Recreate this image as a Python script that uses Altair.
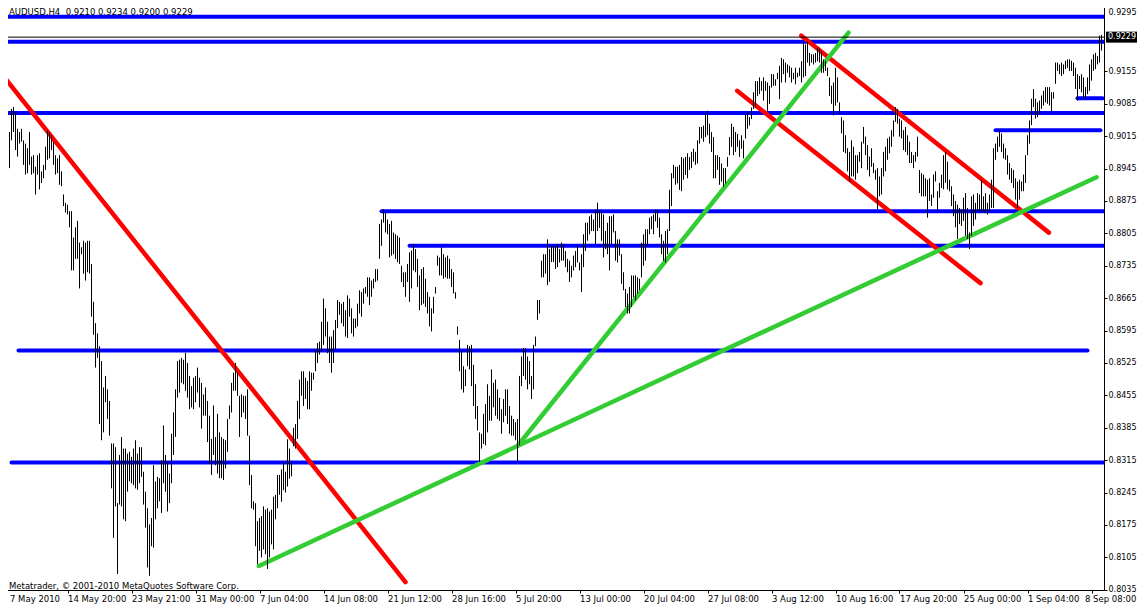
import json
import altair as alt
import pandas as pd

# ---------------- data ----------------
bar_high = [
0.8917,0.8907,0.9014,0.9024,0.9074,0.9078,0.9067,0.9031,0.9024,0.9031,
0.9006,0.8999,0.8989,0.9024,0.8971,0.8974,0.8949,0.8974,0.8978,0.8939,
0.8953,0.8992,0.9028,0.9024,0.9017,0.9003,0.8974,0.8967,0.8974,0.8939,
0.8889,0.8871,0.8867,0.8853,0.8853,0.8796,0.8818,0.8832,0.8785,0.8775,
0.8789,0.8785,0.8789,0.8789,0.8739,0.8657,0.8611,0.8589,0.8561,0.8529,
0.8472,0.8497,0.8468,0.8443,0.8351,0.8351,0.8343,0.8222,0.8326,0.8365,
0.8340,0.8340,0.8329,0.8333,0.8322,0.8340,0.8358,0.8329,0.8343,0.8343,
0.8290,0.8247,0.8211,0.8176,0.8190,0.8304,0.8269,0.8279,0.8276,0.8315,
0.8390,0.8326,0.8311,0.8286,0.8372,0.8418,0.8468,0.8529,0.8532,0.8536,
0.8532,0.8547,0.8525,0.8497,0.8475,0.8493,0.8497,0.8515,0.8493,0.8482,
0.8457,0.8472,0.8443,0.8411,0.8361,0.8433,0.8365,0.8415,0.8375,0.8365,
0.8361,0.8358,0.8404,0.8433,0.8482,0.8504,0.8525,0.8504,0.8454,0.8457,
0.8454,0.8454,0.8468,0.8368,0.8283,0.8226,0.8222,0.8183,0.8190,0.8194,
0.8215,0.8208,0.8211,0.8204,0.8208,0.8236,0.8240,0.8283,0.8283,0.8295,
0.8310,0.8290,0.8360,0.8340,0.8312,0.8385,0.8393,0.8443,0.8489,0.8507,
0.8507,0.8493,0.8486,0.8507,0.8504,0.8504,0.8554,0.8568,0.8571,0.8614,
0.8664,0.8643,0.8614,0.8582,0.8582,0.8596,0.8618,0.8661,0.8657,0.8653,
0.8657,0.8639,0.8671,0.8664,0.8643,0.8621,0.8621,0.8653,0.8682,0.8678,
0.8686,0.8689,0.8710,0.8710,0.8703,0.8707,0.8728,0.8728,0.8825,0.8835,
0.8857,0.8850,0.8835,0.8825,0.8832,0.8807,0.8803,0.8800,0.8796,0.8735,
0.8721,0.8721,0.8739,0.8764,0.8768,0.8782,0.8771,0.8750,0.8714,0.8728,
0.8732,0.8707,0.8678,0.8668,0.8643,0.8668,0.8689,0.8757,0.8753,0.8775,
0.8760,0.8753,0.8757,0.8750,0.8728,0.8721,0.8678,0.8604,0.8575,0.8550,
0.8518,0.8511,0.8564,0.8561,0.8564,0.8521,0.8479,0.8432,0.8375,0.8372,
0.8415,0.8436,0.8479,0.8454,0.8511,0.8482,0.8489,0.8468,0.8450,0.8425,
0.8447,0.8468,0.8468,0.8432,0.8411,0.8404,0.8397,0.8404,0.8497,0.8539,
0.8557,0.8557,0.8539,0.8529,0.8497,0.8564,0.8582,0.8661,0.8661,0.8746,
0.8760,0.8760,0.8792,0.8771,0.8778,0.8778,0.8778,0.8782,0.8771,0.8785,
0.8782,0.8767,0.8750,0.8746,0.8735,0.8757,0.8767,0.8778,0.8742,0.8760,
0.8803,0.8828,0.8828,0.8842,0.8846,0.8835,0.8856,0.8871,0.8853,0.8853,
0.8846,0.8810,0.8828,0.8842,0.8842,0.8846,0.8810,0.8792,0.8792,0.8760,
0.8721,0.8685,0.8675,0.8689,0.8714,0.8714,0.8714,0.8710,0.8707,0.8785,
0.8803,0.8814,0.8814,0.8839,0.8842,0.8846,0.8856,0.8856,0.8839,0.8803,
0.8789,0.8810,0.8814,0.8899,0.8935,0.8953,0.8949,0.8949,0.8953,0.8970,
0.8967,0.8970,0.8978,0.8970,0.8981,0.8988,0.8981,0.9006,0.9035,0.9035,
0.9038,0.9063,0.9070,0.9042,0.9024,0.9013,0.8974,0.8974,0.8970,0.8956,
0.8946,0.8946,0.8970,0.9013,0.9042,0.9035,0.9024,0.9020,0.9006,0.9017,
0.9006,0.9063,0.9067,0.9056,0.9077,0.9110,0.9134,0.9134,0.9142,0.9134,
0.9142,0.9134,0.9131,0.9124,0.9149,0.9149,0.9138,0.9152,0.9167,0.9184,
0.9181,0.9174,0.9170,0.9167,0.9163,0.9152,0.9163,0.9152,0.9163,0.9177,
0.9217,0.9213,0.9220,0.9195,0.9192,0.9192,0.9195,0.9206,0.9206,0.9199,
0.9181,0.9177,0.9163,0.9142,0.9124,0.9131,0.9163,0.9142,0.9088,0.9056,
0.9049,0.9017,0.8989,0.8981,0.9006,0.8992,0.8974,0.8974,0.8981,0.9003,
0.9035,0.9014,0.8996,0.8971,0.8989,0.8957,0.8942,0.8946,0.8928,0.8946,
0.8981,0.8992,0.9010,0.9014,0.9028,0.9049,0.9078,0.9074,0.9053,0.9049,
0.9028,0.9035,0.9017,0.9003,0.8981,0.8974,0.8981,0.9014,0.8942,0.8935,
0.8932,0.8924,0.8921,0.8924,0.8889,0.8932,0.8939,0.8896,0.8914,0.8932,
0.8974,0.8981,0.8960,0.8921,0.8907,0.8889,0.8875,0.8867,0.8860,0.8857,
0.8882,0.8892,0.8860,0.8807,0.8885,0.8889,0.8871,0.8892,0.8889,0.8921,
0.8885,0.8892,0.8871,0.8889,0.8921,0.8989,0.8999,0.9014,0.9028,0.9021,
0.8999,0.8989,0.8974,0.8957,0.8946,0.8942,0.8924,0.8917,0.8921,0.8917,
0.8932,0.8974,0.9017,0.9049,0.9096,0.9117,0.9096,0.9088,0.9092,0.9103,
0.9113,0.9121,0.9121,0.9121,0.9110,0.9110,0.9174,0.9174,0.9170,0.9174,
0.9170,0.9178,0.9181,0.9181,0.9178,0.9174,0.9163,0.9149,0.9145,0.9149,
0.9142,0.9121,0.9142,0.9170,0.9181,0.9192,0.9195,0.9188,0.9232,0.9234,
]

bar_low = [
0.8857,0.8860,0.8921,0.8946,0.9006,0.9024,0.8985,0.8971,0.8999,0.9003,
0.8953,0.8932,0.8935,0.8953,0.8932,0.8935,0.8889,0.8932,0.8900,0.8914,
0.8924,0.8942,0.8964,0.8967,0.8985,0.8953,0.8932,0.8935,0.8910,0.8907,
0.8864,0.8850,0.8846,0.8818,0.8725,0.8725,0.8750,0.8750,0.8686,0.8760,
0.8718,0.8703,0.8721,0.8718,0.8625,0.8586,0.8515,0.8536,0.8393,0.8358,
0.8375,0.8440,0.8404,0.8368,0.8254,0.8147,0.8215,0.8069,0.8219,0.8215,
0.8187,0.8183,0.8247,0.8269,0.8265,0.8261,0.8254,0.8251,0.8265,0.8279,
0.8219,0.8169,0.8083,0.8065,0.8129,0.8126,0.8187,0.8211,0.8226,0.8201,
0.8265,0.8247,0.8204,0.8222,0.8265,0.8326,0.8365,0.8450,0.8461,0.8482,
0.8479,0.8465,0.8450,0.8425,0.8429,0.8425,0.8440,0.8461,0.8429,0.8383,
0.8411,0.8411,0.8354,0.8308,0.8283,0.8326,0.8304,0.8286,0.8276,0.8276,
0.8272,0.8297,0.8333,0.8404,0.8418,0.8465,0.8465,0.8454,0.8365,0.8408,
0.8418,0.8404,0.8368,0.8261,0.8211,0.8208,0.8129,0.8090,0.8119,0.8105,
0.8122,0.8112,0.8080,0.8105,0.8133,0.8122,0.8187,0.8211,0.8240,0.8225,
0.8250,0.8245,0.8258,0.8275,0.8280,0.8345,0.8340,0.8361,0.8404,0.8454,
0.8432,0.8447,0.8425,0.8425,0.8465,0.8489,0.8507,0.8525,0.8543,0.8550,
0.8564,0.8582,0.8546,0.8525,0.8504,0.8525,0.8554,0.8600,0.8629,0.8611,
0.8604,0.8582,0.8579,0.8625,0.8589,0.8582,0.8600,0.8604,0.8632,0.8625,
0.8653,0.8675,0.8668,0.8650,0.8668,0.8686,0.8700,0.8703,0.8750,0.8778,
0.8828,0.8807,0.8803,0.8753,0.8757,0.8760,0.8750,0.8743,0.8739,0.8700,
0.8689,0.8668,0.8700,0.8657,0.8686,0.8725,0.8721,0.8689,0.8639,0.8650,
0.8653,0.8646,0.8632,0.8604,0.8593,0.8632,0.8675,0.8735,0.8714,0.8714,
0.8707,0.8710,0.8707,0.8707,0.8689,0.8675,0.8664,0.8586,0.8507,0.8468,
0.8461,0.8475,0.8518,0.8511,0.8475,0.8432,0.8404,0.8379,0.8311,0.8340,
0.8350,0.8347,0.8375,0.8400,0.8400,0.8429,0.8411,0.8404,0.8400,0.8372,
0.8397,0.8411,0.8393,0.8372,0.8368,0.8368,0.8358,0.8311,0.8347,0.8475,
0.8497,0.8489,0.8468,0.8479,0.8447,0.8468,0.8561,0.8618,0.8632,0.8710,
0.8710,0.8718,0.8693,0.8700,0.8743,0.8743,0.8728,0.8732,0.8742,0.8746,
0.8746,0.8732,0.8721,0.8700,0.8710,0.8725,0.8732,0.8742,0.8725,0.8678,
0.8732,0.8767,0.8789,0.8803,0.8810,0.8810,0.8782,0.8810,0.8817,0.8789,
0.8753,0.8771,0.8760,0.8725,0.8782,0.8807,0.8746,0.8742,0.8757,0.8696,
0.8682,0.8646,0.8632,0.8632,0.8646,0.8667,0.8660,0.8675,0.8682,0.8710,
0.8735,0.8746,0.8778,0.8803,0.8814,0.8803,0.8831,0.8817,0.8796,0.8760,
0.8746,0.8742,0.8760,0.8810,0.8864,0.8924,0.8910,0.8913,0.8899,0.8896,
0.8921,0.8931,0.8924,0.8942,0.8946,0.8960,0.8953,0.8956,0.8999,0.9010,
0.9003,0.9013,0.9017,0.8999,0.8981,0.8924,0.8924,0.8942,0.8910,0.8917,
0.8906,0.8913,0.8949,0.8974,0.8992,0.8974,0.8981,0.8992,0.8970,0.8988,
0.8967,0.9010,0.9031,0.9038,0.9052,0.9074,0.9077,0.9102,0.9106,0.9113,
0.9092,0.9113,0.9070,0.9085,0.9120,0.9124,0.9124,0.9138,0.9095,0.9131,
0.9149,0.9131,0.9152,0.9142,0.9131,0.9138,0.9127,0.9142,0.9145,0.9131,
0.9142,0.9145,0.9174,0.9167,0.9174,0.9170,0.9174,0.9177,0.9174,0.9152,
0.9152,0.9156,0.9145,0.9102,0.9085,0.9060,0.9081,0.9088,0.9063,0.9021,
0.8981,0.8978,0.8939,0.8917,0.8928,0.8928,0.8921,0.8935,0.8960,0.8946,
0.8999,0.8974,0.8942,0.8928,0.8949,0.8935,0.8921,0.8857,0.8885,0.8889,
0.8928,0.8939,0.8964,0.8978,0.8992,0.9014,0.9046,0.9042,0.9014,0.9010,
0.8985,0.8981,0.8974,0.8957,0.8957,0.8946,0.8960,0.8971,0.8892,0.8885,
0.8885,0.8885,0.8839,0.8875,0.8864,0.8882,0.8917,0.8853,0.8882,0.8903,
0.8900,0.8914,0.8900,0.8896,0.8864,0.8842,0.8818,0.8793,0.8825,0.8821,
0.8832,0.8800,0.8793,0.8771,0.8800,0.8821,0.8835,0.8853,0.8850,0.8853,
0.8853,0.8850,0.8846,0.8853,0.8860,0.8860,0.8964,0.8981,0.8992,0.8981,
0.8967,0.8964,0.8932,0.8921,0.8914,0.8903,0.8878,0.8860,0.8878,0.8896,
0.8896,0.8914,0.8974,0.8999,0.9039,0.9078,0.9053,0.9056,0.9063,0.9074,
0.9081,0.9088,0.9085,0.9081,0.9067,0.9096,0.9128,0.9156,0.9149,0.9145,
0.9149,0.9160,0.9163,0.9156,0.9156,0.9145,0.9117,0.9092,0.9117,0.9110,
0.9099,0.9096,0.9106,0.9113,0.9135,0.9156,0.9160,0.9170,0.9174,0.9200,
]

date_labels = ["7 May 2010", "14 May 20:00", "23 May 21:00", "31 May 00:00",
               "7 Jun 04:00", "14 Jun 08:00", "21 Jun 12:00", "28 Jun 16:00",
               "5 Jul 20:00", "13 Jul 00:00", "20 Jul 04:00", "27 Jul 08:00",
               "3 Aug 12:00", "10 Aug 16:00", "17 Aug 20:00", "25 Aug 00:00",
               "1 Sep 04:00", "8 Sep 08:00"]
date_label_bars = [0, 32, 64, 96, 128, 160, 192, 224, 256, 288, 320, 352,
                   384, 416, 448, 480, 512, 544]

price_ticks = [0.8035, 0.8105, 0.8175, 0.8245, 0.8315, 0.8385, 0.8455,
               0.8525, 0.8595, 0.8665, 0.8735, 0.8805, 0.8875, 0.8945,
               0.9015, 0.9085, 0.9155, 0.9295]

# horizontal (blue) levels: price, first bar, last bar
level_price = [0.9273, 0.9219, 0.9065, 0.8853, 0.8778, 0.8552, 0.8310, 0.9028, 0.9097]
level_from = [-0.75, -0.75, -0.75, 189.0, 203.0, 7.5, 4.0, 496.0, 537.0]
level_to = [550.25, 550.25, 550.25, 550.25, 550.25, 542.0, 550.25, 548.5, 549.5]

# trend lines (red / green)
trend_from_bar = [-0.75, 398.9, 366.8, 127.7, 257.2]
trend_from_price = [0.91488, 0.92322, 0.91131, 0.80863, 0.83467]
trend_to_bar = [201.0, 522.7, 488.5, 546.5, 422.5]
trend_to_price = [0.80515, 0.88066, 0.86975, 0.89263, 0.92386]
trend_color = ["#FF0000", "#FF0000", "#FF0000", "#32CD32", "#32CD32"]

bid_price = 0.9229
bid_text = "0.9229"
title_text = "AUDUSD,H4\u00a0 0.9210 0.9234 0.9200 0.9229"
copyright_text = "Metatrader, \u00a9 2001-2010 MetaQuotes Software Corp."

# ---------------- chart ----------------
W, H = 1102, 589
FONT = "DejaVu Sans"
FS = 8.5
FS_Y = 8

xs = alt.Scale(domain=[-0.75, 550.25], nice=False, zero=False)
ys = alt.Scale(domain=[0.80344, 0.93071], nice=False, zero=False)

bars_df = pd.DataFrame({"bar": list(range(len(bar_high))), "high": bar_high, "low": bar_low})
levels_df = pd.DataFrame({"x1": level_from, "x2": level_to, "p": level_price})
trend_df = pd.DataFrame({"x1": trend_from_bar, "p1": trend_from_price,
                         "x2": trend_to_bar, "p2": trend_to_price, "c": trend_color})
bid_df = pd.DataFrame({"p": [bid_price], "t": [bid_text]})
title_df = pd.DataFrame({"t": [title_text]})
copy_df = pd.DataFrame({"t": [copyright_text]})

label_expr = (json.dumps(date_labels) + "[indexof(" + json.dumps(date_label_bars)
              + ", datum.value)]")

x_axis = alt.Axis(values=date_label_bars, labelExpr=label_expr, orient="bottom",
                  title=None, grid=False, tickSize=3, tickColor="black", tickWidth=1,
                  domainColor="black", domainWidth=1, labelAlign="left",
                  labelBaseline="top", labelPadding=1, labelFont=FONT,
                  labelFontSize=FS, labelColor="black", labelFlush=False,
                  labelOverlap=False, labelBound=False,
                  labelOffset={"condition": [
                      {"test": "datum.value == 0", "value": 6},
                      {"test": "datum.value == 544", "value": -7}],
                      "value": 0})
y_axis = alt.Axis(values=price_ticks, format=".4f", orient="right", title=None,
                  grid=False, tickSize=3, tickColor="black", tickWidth=1,
                  domainColor="black", domainWidth=1, labelAlign="left",
                  labelPadding=1, labelFont=FONT,
                  labelFontSize=FS_Y, labelColor="black", labelFlush=False,
                  labelOverlap=False, labelBound=False,
                  labelBaseline={"condition": {"test": "datum.value > 0.929", "value": "top"},
                                 "value": "middle"},
                  labelOffset={"condition": {"test": "datum.value > 0.929", "value": 2},
                               "value": 0})

levels = alt.Chart(levels_df).mark_rule(
    color="#0000FF", strokeWidth=4, strokeCap="round", clip=True
).encode(
    x=alt.X("x1:Q", scale=xs, axis=x_axis), x2="x2:Q",
    y=alt.Y("p:Q", scale=ys, axis=y_axis),
)

trends = alt.Chart(trend_df).mark_rule(
    strokeWidth=4.5, strokeCap="round", clip=True
).encode(
    x=alt.X("x1:Q", scale=xs, axis=x_axis), x2="x2:Q",
    y=alt.Y("p1:Q", scale=ys, axis=y_axis), y2="p2:Q",
    color=alt.Color("c:N", scale=None),
)

bid_line = alt.Chart(bid_df).mark_rule(color="black", strokeWidth=1).encode(
    y=alt.Y("p:Q", scale=ys, axis=y_axis),
)

bars = alt.Chart(bars_df).mark_rule(color="black", strokeWidth=1).encode(
    x=alt.X("bar:Q", scale=xs, axis=x_axis),
    y=alt.Y("high:Q", scale=ys, axis=y_axis),
    y2="low:Q",
)

bid_box = alt.Chart(bid_df).mark_tick(
    orient="horizontal", color="black", size=31, thickness=11, opacity=1
).encode(
    x=alt.value(1119.5),
    y=alt.Y("p:Q", scale=ys, axis=y_axis),
)

bid_label = alt.Chart(bid_df).mark_text(
    align="left", baseline="middle", color="white", font=FONT, fontSize=FS_Y
).encode(
    x=alt.value(1106),
    y=alt.Y("p:Q", scale=ys, axis=y_axis),
    text="t:N",
)

title = alt.Chart(title_df).mark_text(
    align="left", baseline="top", color="black", font=FONT, fontSize=FS
).encode(x=alt.value(7), y=alt.value(7), text="t:N")

copyright_mark = alt.Chart(copy_df).mark_text(
    align="left", baseline="alphabetic", color="black", font=FONT, fontSize=FS
).encode(x=alt.value(7), y=alt.value(587.5), text="t:N")

chart = alt.layer(
    levels, trends, bid_line, bars, bid_box, bid_label, title, copyright_mark
).properties(
    width=W, height=H,
    autosize=alt.AutoSizeParams(type="none"),
    padding={"left": -6, "top": -7, "right": 33, "bottom": 14},
    background="white",
).configure_view(stroke=None)

chart.save("out.html", embed_options={"renderer": "svg", "actions": False})
